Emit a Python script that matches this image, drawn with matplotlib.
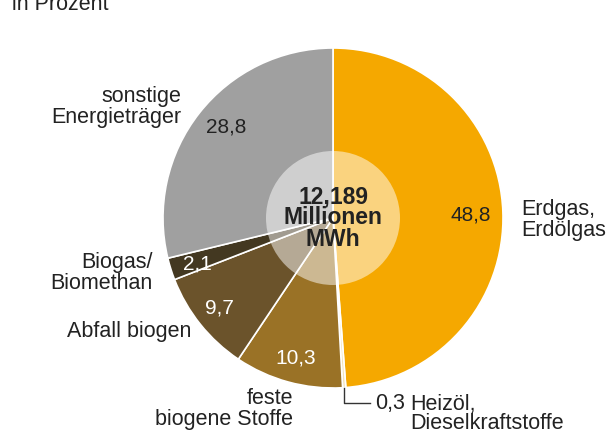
import matplotlib.pyplot as plt
from matplotlib.patches import Circle

plt.rcParams['font.family'] = ['Liberation Sans', 'DejaVu Sans']

# data (in Prozent), clockwise from 12 o'clock
labels = ['Erdgas,\nErdölgas', 'Heizöl,\nDieselkraftstoffe', 'feste\nbiogene Stoffe',
          'Abfall biogen', 'Biogas/\nBiomethan', 'sonstige\nEnergieträger']
values = [48.8, 0.3, 10.3, 9.7, 2.1, 28.8]
value_text = ['48,8', '0,3', '10,3', '9,7', '2,1', '28,8']
colors = ['#F5A800', '#F3E3B8', '#9A7226', '#6B532B', '#433821', '#A0A0A0']
total = '12,189\nMillionen\nMWh'

W, H = 608, 434
fig = plt.figure(figsize=(W / 100, H / 100), dpi=100)
ax = fig.add_axes([0, 0, 1, 1])

cx, cy, r = 333, H - 218, 170
ax.pie(values, colors=colors, startangle=90, counterclock=False,
       center=(cx, cy), radius=r, frame=True,
       wedgeprops=dict(edgecolor='white', linewidth=1.2))
ax.set_xlim(0, W)
ax.set_ylim(0, H)
ax.set_aspect('equal')
ax.axis('off')

ax.add_patch(Circle((cx, cy), 67, facecolor='white', alpha=0.5, edgecolor='none', zorder=5))
ax.text(cx, H - 218, total, ha='center', va='center', fontsize=16.5, fontweight='bold',
        color='#222222', linespacing=0.9, zorder=6)

fs = 15.5
vfs = 15
dark = '#222222'
# values inside slices
ax.text(471, H - 215, value_text[0], ha='center', va='center', fontsize=vfs, color=dark)
ax.text(296, H - 358, value_text[2], ha='center', va='center', fontsize=vfs, color='white')
ax.text(219, H - 308, value_text[3], ha='center', va='center', fontsize=vfs, color='white')
ax.text(197, H - 264, value_text[4], ha='center', va='center', fontsize=vfs, color='white')
ax.text(226, H - 127, value_text[5], ha='center', va='center', fontsize=vfs, color=dark)

# outer labels
ax.text(521, H - 220, labels[0], ha='left', va='center', fontsize=fs, color=dark, linespacing=0.95)
ax.text(293, H - 409, labels[2], ha='right', va='center', fontsize=fs, color=dark, linespacing=0.95)
ax.text(191, H - 332, labels[3], ha='right', va='center', fontsize=fs, color=dark)
ax.text(153, H - 273, labels[4], ha='right', va='center', fontsize=fs, color=dark, linespacing=0.95)
ax.text(181, H - 107, labels[5], ha='right', va='center', fontsize=fs, color=dark, linespacing=0.95)

# Heizöl with leader line
ax.plot([344, 344, 370], [H - 388, H - 403, H - 403], color='#333333', lw=1)
ax.text(375, H - 403, value_text[1], ha='left', va='center', fontsize=fs, color=dark)
ax.text(410, H - 414, labels[1], ha='left', va='center', fontsize=fs, color=dark, linespacing=0.92)

ax.text(12, H - 10, 'in Prozent', ha='left', va='baseline', fontsize=fs, color=dark)

fig.savefig('out.png', dpi=100)
